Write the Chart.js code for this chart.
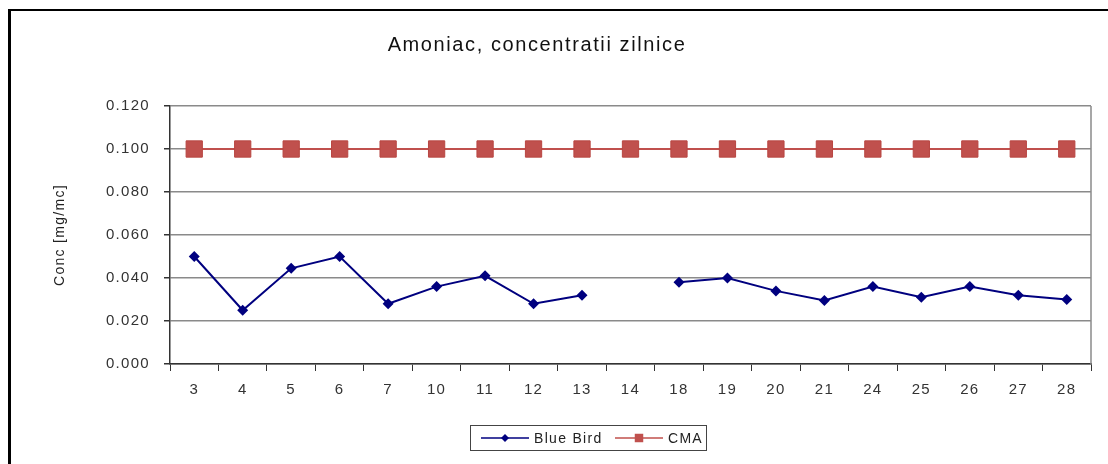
<!DOCTYPE html>
<html>
<head>
<meta charset="utf-8">
<script src="https://cdn.jsdelivr.net/npm/chart.js@4.4.1/dist/chart.umd.min.js"></script>
<style>
  html, body { margin: 0; padding: 0; background: #fff; }
  #wrap { width: 1108px; height: 464px; position: relative; }
</style>
</head>
<body>
<div id="wrap"><canvas id="chart"></canvas></div>
<script>
// zile
const zile = ['3', '4', '5', '6', '7', '10', '11', '12', '13', '14', '18', '19', '20', '21', '24', '25', '26', '27', '28'];
// Blue Bird (mg/mc), ziua 14 lipseste
const blueBird = [0.050, 0.025, 0.0445, 0.050, 0.028, 0.036, 0.041, 0.028, 0.032, null, 0.038, 0.040, 0.034, 0.0295, 0.036, 0.031, 0.036, 0.032, 0.030];
// CMA
const cma = [0.100, 0.100, 0.100, 0.100, 0.100, 0.100, 0.100, 0.100, 0.100, 0.100, 0.100, 0.100, 0.100, 0.100, 0.100, 0.100, 0.100, 0.100, 0.100];

const FONT = '"Liberation Sans", Arial, sans-serif';

// rama, titlu, chenar zona grafic, legenda
const decor = {
  id: 'decor',
  beforeDraw(chart) {
    const { ctx } = chart;
    ctx.save();
    ctx.fillStyle = '#fff';
    ctx.fillRect(0, 0, chart.width, chart.height);
    ctx.fillStyle = '#000';
    ctx.fillRect(8, 9, chart.width - 8, 2);
    ctx.fillRect(8, 9, 3, chart.height - 9);
    ctx.restore();
    // textul din original e putin latit
    ctx.letterSpacing = '1.3px';
  },
  beforeDatasetsDraw(chart) {
    const { ctx, chartArea: a } = chart;
    ctx.save();
    ctx.strokeStyle = '#8a8a8a';
    ctx.lineWidth = 1.5;
    ctx.beginPath();
    ctx.moveTo(a.right, a.top);
    ctx.lineTo(a.right, a.bottom);
    ctx.stroke();
    ctx.restore();
  },
  afterDraw(chart) {
    const { ctx } = chart;
    ctx.save();
    ctx.fillStyle = '#111';
    ctx.font = '20px ' + FONT;
    ctx.letterSpacing = '1.6px';
    ctx.textAlign = 'center';
    ctx.textBaseline = 'middle';
    ctx.fillText('Amoniac, concentratii zilnice', 537, 45);

    // legenda
    ctx.letterSpacing = '1.3px';
    ctx.strokeStyle = '#444';
    ctx.lineWidth = 1;
    ctx.strokeRect(470.5, 425.5, 236, 25);
    ctx.font = '14px ' + FONT;
    ctx.textAlign = 'left';
    const items = [
      { ds: chart.data.datasets[0], x0: 481, x1: 529, tx: 534 },
      { ds: chart.data.datasets[1], x0: 615, x1: 663, tx: 668 }
    ];
    items.forEach(it => {
      const y = 438;
      ctx.strokeStyle = it.ds.borderColor;
      ctx.lineWidth = 1.5;
      ctx.beginPath();
      ctx.moveTo(it.x0, y);
      ctx.lineTo(it.x1, y);
      ctx.stroke();
      ctx.fillStyle = it.ds.pointBackgroundColor;
      Chart.helpers.drawPoint(ctx, {
        pointStyle: it.ds.pointStyle,
        radius: it.ds.pointStyle === 'rect' ? 6 : 4,
        borderWidth: 0
      }, (it.x0 + it.x1) / 2, y);
      ctx.fillStyle = '#222';
      ctx.fillText(it.ds.label, it.tx, y + 1);
    });
    ctx.restore();
  }
};

new Chart(document.getElementById('chart'), {
  type: 'line',
  data: {
    labels: zile,
    datasets: [
      {
        label: 'Blue Bird',
        data: blueBird,
        borderColor: '#00007f',
        backgroundColor: '#00007f',
        pointBackgroundColor: '#00007f',
        pointBorderColor: '#00007f',
        pointStyle: 'rectRot',
        pointRadius: 5.5,
        pointBorderWidth: 0,
        borderWidth: 2,
        tension: 0,
        spanGaps: false
      },
      {
        label: 'CMA',
        data: cma,
        borderColor: '#c0504d',
        backgroundColor: '#c0504d',
        pointBackgroundColor: '#c0504d',
        pointBorderColor: '#b84642',
        pointStyle: 'rect',
        pointRadius: 11.5,
        pointBorderWidth: 1,
        borderWidth: 2,
        tension: 0
      }
    ]
  },
  options: {
    responsive: true,
    maintainAspectRatio: false,
    animation: false,
    layout: { padding: { top: 106, right: 17, left: 52, bottom: 0 } },
    plugins: {
      legend: { display: false },
      tooltip: { enabled: false },
      title: { display: false }
    },
    scales: {
      x: {
        offset: true,
        grid: { drawOnChartArea: false, drawTicks: true, tickLength: 7, tickColor: '#333', offset: true },
        border: { color: '#333', width: 1.5 },
        ticks: { color: '#333', font: { family: FONT, size: 15 }, padding: 10, maxRotation: 0, autoSkip: false },
        afterFit(scale) { scale.height = 100; }
      },
      y: {
        min: 0,
        max: 0.12,
        ticks: {
          stepSize: 0.02,
          color: '#333',
          font: { family: FONT, size: 15 },
          padding: 14,
          callback: v => v.toFixed(3)
        },
        grid: { color: '#8a8a8a', lineWidth: 1.5, tickLength: 6, tickColor: '#333' },
        border: { color: '#333', width: 1.5 },
        title: {
          display: true,
          text: 'Conc [mg/mc]',
          color: '#222',
          font: { family: FONT, size: 14 },
          padding: { top: 0, bottom: 0 }
        },
        afterFit(scale) { scale.width = 118; }
      }
    }
  },
  plugins: [decor]
});
</script>
</body>
</html>
